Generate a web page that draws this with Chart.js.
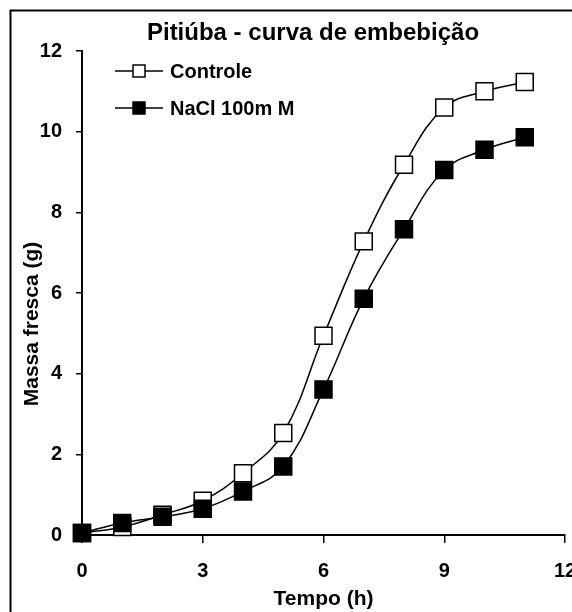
<!DOCTYPE html>
<html lang="pt">
<head>
<meta charset="utf-8">
<title>Pitiúba - curva de embebição</title>
<script src="https://cdn.jsdelivr.net/npm/chart.js@4/dist/chart.umd.min.js"></script>
<style>
    html, body { margin: 0; padding: 0; background: #fff; }
    #grafico { display: block; width: 572px; height: 612px; }
</style>
</head>
<body>
<canvas id="grafico" width="572" height="612"></canvas>
<script>
// Tempo de embebição (h) e massa fresca (g) das sementes
const tempo = [0, 1, 2, 3, 4, 5, 6, 7, 8, 9, 10, 11];
const controle = [0.05, 0.2, 0.5, 0.85, 1.53, 2.53, 4.94, 7.28, 9.18, 10.6, 11.0, 11.23];
const nacl100 = [0.05, 0.3, 0.45, 0.65, 1.08, 1.7, 3.61, 5.86, 7.58, 9.05, 9.55, 9.86];

const ticksX = [0, 3, 6, 9, 12];
const ticksY = [0, 2, 4, 6, 8, 10, 12];

const FONTE = '"Liberation Sans", Arial, sans-serif';

function pontos(valores) {
    return tempo.map((t, i) => ({ x: t, y: valores[i] }));
}

// quadro externo, título, legenda e rótulo do eixo Y
const extras = {
    id: 'extras',
    beforeDraw(chart) {
        const ctx = chart.ctx;
        ctx.save();
        ctx.fillStyle = '#fff';
        ctx.fillRect(0, 0, chart.width, chart.height);
        ctx.strokeStyle = '#000';
        ctx.lineWidth = 2;
        ctx.strokeRect(10.5, 10.5, 700, 700);
        ctx.restore();
    },
    afterDraw(chart) {
        const ctx = chart.ctx;
        ctx.save();
        ctx.fillStyle = '#000';
        ctx.textBaseline = 'middle';

        ctx.font = `bold 24px ${FONTE}`;
        ctx.textAlign = 'center';
        ctx.fillText('Pitiúba - curva de embebição', 313, 33);

        ctx.save();
        ctx.translate(32, 324);
        ctx.rotate(-Math.PI / 2);
        ctx.font = `bold 21px ${FONTE}`;
        ctx.fillText('Massa fresca (g)', 0, 0);
        ctx.restore();

        const itens = [
            { texto: 'Controle', cheio: false, y: 71 },
            { texto: 'NaCl 100m M', cheio: true, y: 108 }
        ];
        ctx.font = `bold 20px ${FONTE}`;
        ctx.textAlign = 'left';
        itens.forEach(item => {
            ctx.strokeStyle = '#000';
            ctx.lineWidth = 1.5;
            ctx.beginPath();
            ctx.moveTo(115, item.y);
            ctx.lineTo(163, item.y);
            ctx.stroke();
            ctx.fillStyle = item.cheio ? '#000' : '#fff';
            ctx.fillRect(133, item.y - 6, 12, 12);
            ctx.strokeRect(133, item.y - 6, 12, 12);
            ctx.fillStyle = '#000';
            ctx.fillText(item.texto, 170, item.y + 1);
        });
        ctx.restore();
    }
};

const eixoComum = {
    type: 'linear',
    min: 0,
    max: 12,
    border: { display: true, color: '#000', width: 2 },
    grid: { drawOnChartArea: false, drawTicks: true, tickLength: 6, color: '#000', lineWidth: 1.5 }
};

new Chart(document.getElementById('grafico'), {
    type: 'line',
    data: {
        datasets: [
            {
                label: 'Controle',
                data: pontos(controle),
                borderColor: '#000',
                borderWidth: 1.5,
                backgroundColor: '#fff',
                pointStyle: 'rect',
                pointRadius: 12,
                pointBorderWidth: 1.5,
                pointBackgroundColor: '#fff',
                pointBorderColor: '#000',
                tension: 0.4,
                clip: false,
                order: 2
            },
            {
                label: 'NaCl 100m M',
                data: pontos(nacl100),
                borderColor: '#000',
                borderWidth: 1.5,
                backgroundColor: '#000',
                pointStyle: 'rect',
                pointRadius: 12,
                pointBorderWidth: 1.5,
                pointBackgroundColor: '#000',
                pointBorderColor: '#000',
                tension: 0.4,
                clip: false,
                order: 1
            }
        ]
    },
    options: {
        responsive: false,
        animation: false,
        devicePixelRatio: 1,
        layout: { autoPadding: false, padding: { left: 0, right: 7, top: 51, bottom: 0 } },
        plugins: {
            legend: { display: false },
            title: { display: false },
            tooltip: { enabled: false }
        },
        scales: {
            x: {
                ...eixoComum,
                grid: { ...eixoComum.grid, tickLength: 8 },
                afterBuildTicks: axis => { axis.ticks = ticksX.map(v => ({ value: v })); },
                // o rótulo "12" pode ficar cortado na borda direita
                afterFit: axis => { axis.height = 77; axis.paddingLeft = 0; axis.paddingRight = 0; },
                ticks: { color: '#000', padding: 16, maxRotation: 0, font: { family: FONTE, size: 20, weight: 'bold' } },
                title: { display: true, text: 'Tempo (h)', color: '#000', padding: { top: 0, bottom: 0 }, font: { family: FONTE, size: 21, weight: 'bold' } }
            },
            y: {
                ...eixoComum,
                afterBuildTicks: axis => { axis.ticks = ticksY.map(v => ({ value: v })); },
                afterFit: axis => { axis.width = 82; },
                ticks: { color: '#000', padding: 14, font: { family: FONTE, size: 20, weight: 'bold' } }
            }
        }
    },
    plugins: [extras]
});
</script>
</body>
</html>
